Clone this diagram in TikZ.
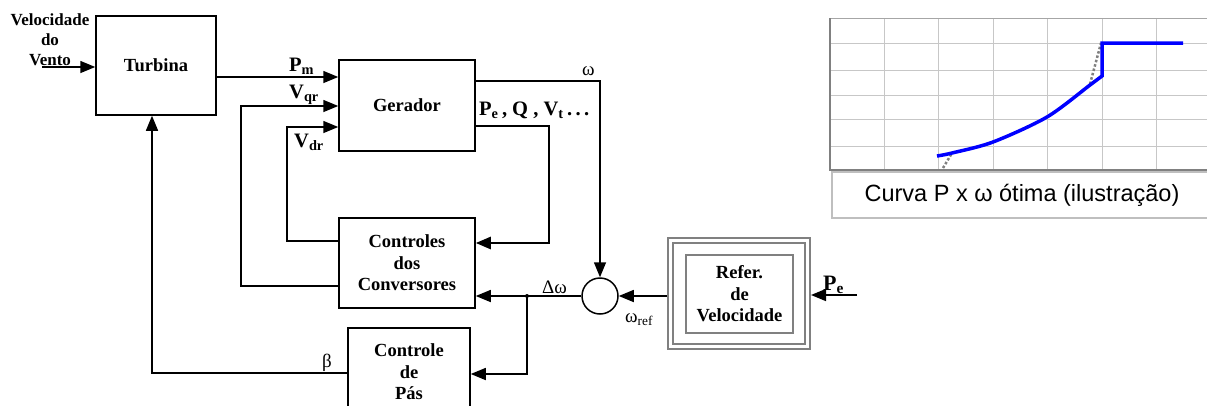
\documentclass[tikz,border=0pt]{standalone}
\usepackage{fontspec}
\setmainfont{Liberation Serif}
\newfontfamily\arialf{Liberation Sans}
\usetikzlibrary{arrows.meta}
\begin{document}
\begin{tikzpicture}[x=1pt,y=-1pt,
  blk/.style={draw,line width=1.5pt,inner sep=0pt,align=center,font=\fontsize{18.5}{21.5}\selectfont\bfseries},
  arr/.style={line width=1.5pt,-{Triangle[length=15pt,width=12pt]}},
  ln/.style={line width=1.5pt},
  lbl/.style={inner sep=0pt,anchor=base west,font=\fontsize{20.5}{22}\selectfont\bfseries},
  glbl/.style={inner sep=0pt,anchor=base west,font=\fontsize{19}{21}\selectfont},
  grid/.style={draw=black!22,line width=1pt}]
\useasboundingbox (0,0) rectangle (1207,405);
% blocks
\node[blk,minimum width=120pt,minimum height=99pt] (turb) at (156,65.5) {Turbina};
\node[blk,minimum width=136pt,minimum height=91pt] (ger) at (407,105.5) {Gerador};
\node[blk,minimum width=136pt,minimum height=90pt] (conv) at (407,263) {Controles\\dos\\Conversores};
\node[blk,minimum width=122pt,minimum height=88pt] (pas) at (409,372) {Controle\\de\\Pás};
\node[draw=black!50,line width=2pt,minimum width=142pt,minimum height=111pt,inner sep=0pt] (refo) at (739,293.5) {};
\node[draw=black!50,line width=2pt,minimum width=132pt,minimum height=101pt,inner sep=0pt] (refm) at (739,293.5) {};
\node[blk,draw=black!50,line width=2pt,minimum width=107pt,minimum height=78pt] (refi) at (739.5,294) {Refer.\\de\\Velocidade};
\node[draw,circle,line width=1.5pt,minimum size=36pt,inner sep=0pt] (sum) at (600,296) {};
% input text
\node[align=center,inner sep=0pt,font=\fontsize{17}{20}\selectfont\bfseries] (vtxt) at (50,40) {Velocidade\\do\\Vento};
% coordinates
\coordinate (vin) at (42,67);
\coordinate (pmy) at (0,77);
\coordinate (vq) at (241,106);
\coordinate (c1) at (241,286);
\coordinate (vd) at (287,127);
\coordinate (c2) at (287,241);
\coordinate (tb) at (152,373);
\coordinate (om) at (600,81);
\coordinate (pe1) at (549,126);
\coordinate (pe2) at (549,243);
\coordinate (jn) at (527,296);
\coordinate (py) at (527,374);
\coordinate (pin) at (857,295);
% connectors
\draw[arr] (vin) -- (turb.west|-vin);
\draw[arr] (turb.east|-pmy) -- (ger.west|-pmy);
\draw[arr] (conv.west|-c1) -- (c1) -- (vq) -- (ger.west|-vq);
\draw[arr] (conv.west|-c2) -- (c2) -- (vd) -- (ger.west|-vd);
\draw[arr] (pas.west|-tb) -- (tb) -- (tb|-turb.south);
\draw[arr] (ger.east|-om) -- (om) -- (sum.north);
\draw[arr,line width=2.5pt] (ger.east|-pe1) -- (pe1) -- (pe2) -- (conv.east|-pe2);
\draw[arr] (sum.west) -- (conv.east|-sum.west);
\fill (jn) circle (2pt);
\draw[arr] (jn) -- (py) -- (pas.east|-py);
\draw[arr] (refo.west|-sum.east) -- (sum.east);
\draw[arr] (pin) -- (refo.east|-pin);
% labels
\node[lbl] (lpm) at (289,71) {P\textsubscript{m}};
\node[lbl] (lvq) at (289,98) {V\textsubscript{qr}};
\node[lbl] (lvd) at (294,147) {V\textsubscript{dr}};
\node[lbl] (lpe) at (479,115) {P\textsubscript{e}\,, Q , V\textsubscript{t}\,.\,.\,.};
\node[glbl] (lom) at (582,75) {ω};
\node[glbl] (ldw) at (542,293) {Δω};
\node[glbl] (lwr) at (625,322) {ω\textsubscript{ref}};
\node[glbl] (lb) at (322,367) {β};
\node[lbl,font=\fontsize{22}{24}\selectfont\bfseries] (lpe2) at (823,290) {P\textsubscript{e}};
% chart
\foreach \xx in {884,938,993,1047,1102,1156} \draw[grid] (\xx,18) -- (\xx,170);
\foreach \yy in {43,70,95,119,146} \draw[grid] (830,\yy) -- (1207,\yy);
\draw[draw=black!35,line width=1pt] (830,18) -- (1207,18);
\draw[draw=black!50,line width=1.2pt] (830,18) -- (830,170) -- (1207,170);
\draw[draw=black!25,line width=1.5pt] (1210,172) -- (832,172) -- (832,218) -- (1210,218);
\node[inner sep=0pt,font=\arialf\fontsize{23.5}{26}\selectfont] (cap) at (1022,195) {Curva P x ω ótima (ilustração)};
\draw[black!50,line width=2.5pt,dotted] (943,168) -- (952,153);
\draw[black!50,line width=2.5pt,dotted] (1090,84) -- (1101,43);
\draw[blue,line width=3.5pt] plot[smooth] coordinates {(937,156) (952,153) (993,142) (1047,117) (1090,85) (1102,76)} -- (1102,43) -- (1183,43);
\end{tikzpicture}
\end{document}
